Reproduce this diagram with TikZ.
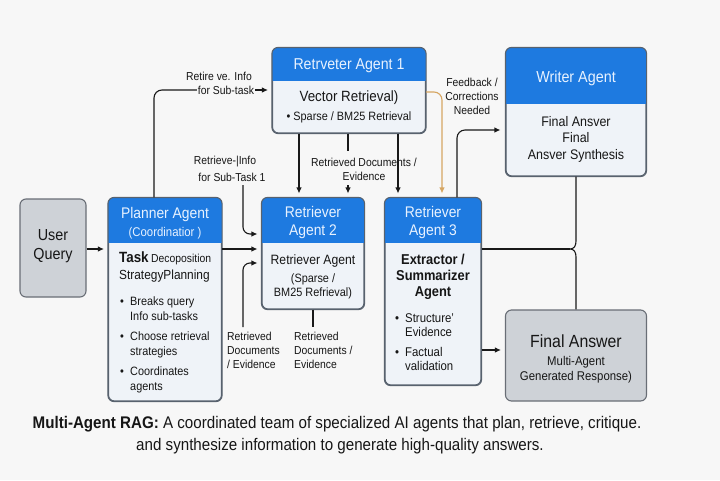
\documentclass[tikz,border=0pt]{standalone}
\usepackage{fontspec}
\setmainfont[FakeStretch=0.9]{Liberation Sans}
\usetikzlibrary{arrows.meta}
\definecolor{bg}{RGB}{247,247,247}
\definecolor{hdrblue}{RGB}{30,122,224}
\definecolor{bodyc}{RGB}{239,243,248}
\definecolor{bordc}{RGB}{88,98,110}
\definecolor{gfill}{RGB}{206,210,215}
\definecolor{gbord}{RGB}{105,110,118}
\definecolor{linec}{RGB}{25,25,25}
\definecolor{txtc}{RGB}{22,22,22}
\definecolor{orangec}{RGB}{214,166,98}
\definecolor{hdrtxtc}{RGB}{232,242,255}
\newcommand{\fs}[2]{\fontsize{\fpeval{#1*1.1}}{#2}\selectfont}
\newcommand{\hdrfill}[2]{%
  \begin{scope}
    \clip[rounded corners=6pt] (#1.south west) rectangle (#1.north east);
    \fill[hdrblue] (#1.north west) rectangle ([yshift=-#2pt]#1.north east);
  \end{scope}
  \draw[bordc, line width=1.1pt, rounded corners=6pt] (#1.south west) rectangle (#1.north east);}
\begin{document}
\begin{tikzpicture}[x=1pt,y=-1pt,
  box/.style={draw=bordc, line width=1.1pt, fill=bodyc, rounded corners=6pt, inner sep=0pt},
  gbox/.style={draw=gbord, line width=1.1pt, fill=gfill, rounded corners=6pt, inner sep=0pt},
  conn/.style={draw=linec, line width=1.1pt},
  arr/.style={conn, -{Latex[length=6pt,width=5.5pt]}, shorten >=4pt},
  oarr/.style={draw=orangec, line width=1.1pt, -{Latex[length=6pt,width=5.5pt]}, shorten >=4pt},
  hdrtxt/.style={text=hdrtxtc, align=center, inner sep=1pt},
  txt/.style={text=txtc, align=center, inner sep=1pt},
  lbl/.style={text=txtc, inner sep=1pt, font=\fs{10.5}{14}},
]
\fill[bg] (0,0) rectangle (720,480);
\useasboundingbox (0,0) rectangle (720,480);

% ---------- boxes ----------
\node[gbox, minimum width=66pt, minimum height=98pt] (uq) at (53,248) {};
\node[box, minimum width=113pt, minimum height=203pt] (pl) at (165,299.5) {};
\hdrfill{pl}{46}
\node[box, minimum width=153pt, minimum height=85pt] (r1) at (349,90.5) {};
\hdrfill{r1}{34}
\node[box, minimum width=140pt, minimum height=128pt] (wr) at (576,112) {};
\hdrfill{wr}{57}
\node[box, minimum width=102pt, minimum height=111pt] (r2) at (313,253.5) {};
\hdrfill{r2}{46}
\node[box, minimum width=96pt, minimum height=187pt] (r3) at (433,291.5) {};
\hdrfill{r3}{46}
\node[gbox, minimum width=141pt, minimum height=91pt] (fa) at (576,355.5) {};

% ---------- box texts ----------
\node[txt, font=\fs{14.5}{19}] (uqt) at (53,246) {User\\Query};

\node[hdrtxt, font=\fs{14}{18}] (plh) at (165,223) {Planner Agent\\{\fs{11.5}{18}(Coordinatior )}};
\node[txt, anchor=mid west] (pl1) at (118,260) {{\bfseries\fs{13.5}{16}Task} {\fs{10.5}{13}Decoposition}};
\node[txt, anchor=mid west, font=\fs{12}{15}] (pl2) at (118,277) {StrategyPlanning};
\node[txt, anchor=west, align=left, font=\fs{11}{15}] (pl3) at (119,345)
  {\makebox[10pt][l]{•}Breaks query\\\hspace*{10pt}Info sub-tasks\\[5pt]
   \makebox[10pt][l]{•}Choose retrieval\\\hspace*{10pt}strategies\\[5pt]
   \makebox[10pt][l]{•}Coordinates\\\hspace*{10pt}agents};

\node[hdrtxt, font=\fs{14.3}{17}] (r1h) at (349,66) {Retrveter Agent 1};
\node[txt, font=\fs{13.5}{16}] (r1b1) at (349,98) {Vector Retrieval)};
\node[txt, font=\fs{11}{14}] (r1b2) at (349,117) {• Sparse / BM25 Retrieval};

\node[hdrtxt, font=\fs{14.5}{17}] (wrh) at (576,78) {Writer Agent};
\node[txt, font=\fs{12.6}{16.5}] (wrb) at (576,139) {Final Ansver\\Final\\Ansver Synthesis};

\node[hdrtxt, font=\fs{14}{18}] (r2h) at (313,223) {Retriever\\Agent 2};
\node[txt, font=\fs{12.3}{15}] (r2b1) at (313,261) {Retriever Agent};
\node[txt, font=\fs{11}{14.5}] (r2b2) at (313,286.5) {(Sparse /\\BM25 Refrieval)};

\node[hdrtxt, font=\fs{14}{18}] (r3h) at (433,223) {Retriever\\Agent 3};
\node[txt, font=\bfseries\fs{13}{16}] (r3b1) at (433,277) {Extractor /\\Summarizer\\Agent};
\node[txt, anchor=west, align=left, font=\fs{11.5}{14.5}] (r3b2) at (394,342)
  {\makebox[10pt][l]{•}Structure'\\\hspace*{10pt}Evidence\\[5pt]
   \makebox[10pt][l]{•}Factual\\\hspace*{10pt}validation};

\node[txt, font=\fs{16}{19}] (fat1) at (576,341) {Final Answer};
\node[txt, font=\fs{11.5}{14.5}] (fat2) at (576,369.5) {Multi-Agent\\Generated Response)};

% ---------- labels ----------
\node[lbl] (t1a) at (219,76) {Retire ve. Info};
\node[lbl] (t1b) at (226,90) {for Sub-task};
\node[lbl] (t2a) at (225,162) {Retrieve-|Info};
\node[lbl] (t2b) at (232,177) {for Sub-Task 1};
\node[lbl, align=center] (t3) at (364,169) {Retrieved Documents /\\Evidence};
\node[lbl, align=center] (t4) at (472,96) {Feedback /\\Corrections\\Needed};
\node[lbl, align=left, anchor=west] (t5) at (226,350) {Retrieved\\Documents\\/ Evidence};
\node[lbl, align=left, anchor=west] (t6) at (293,350) {Retrieved\\Documents /\\Evidence};

% ---------- coordinates ----------
\coordinate (a1) at (154,91);
\coordinate (m1) at (240,249);
\coordinate (c2) at (243,185);
\coordinate (c3) at (243,327);
\coordinate (d1) at (299,160);
\coordinate (d2) at (348,151);
\coordinate (d3) at (348,185);
\coordinate (d4) at (398,160);
\coordinate (o1) at (442,92);
\coordinate (f1) at (457,130);
\coordinate (b1) at (576,241);
\coordinate (bt) at (570,249);
\coordinate (b2) at (576,257);
\coordinate (e1) at (490,350);
\coordinate (r2s) at (313,327);

% ---------- connectors ----------
\draw[arr] (uq.east |- m1) -- (pl.west |- m1);
\draw[arr] (pl.east |- m1) -- (r2.west |- m1);
\draw[conn, rounded corners=8pt] (pl.north -| a1) |- (t1b.west);
\draw[arr] (t1b.east) -- (r1.west |- t1b.east);
\draw[arr, rounded corners=7pt] (c2) |- ([yshift=19.5pt]r2.west);
\draw[arr, rounded corners=7pt] (c3) |- ([yshift=-9.5pt]r2.west);
\draw[arr] (r1.south -| d1) -- (r2.north -| d1);
\draw[conn] (r1.south -| d2) -- (d2);
\draw[arr] (d3) -- (r2.north -| d3);
\draw[arr] (r1.south -| d4) -- (r3.north -| d4);
\draw[oarr, rounded corners=8pt] (r1.east |- o1) -| (r3.north -| o1);
\draw[arr, rounded corners=8pt, shorten >=5pt] (r3.north -| f1) |- (wr.west |- f1);
\draw[conn] (wr.south) -- (b1) .. controls (576,246) and (574,249) .. (bt)
  .. controls (574,249) and (576,252) .. (b2) -- (fa.north);
\draw[conn] (r3.east |- bt) -- (bt);
\draw[arr] (r3.east |- e1) -- (fa.west |- e1);
\draw[conn] (r2.south) -- (r2s);

% ---------- caption ----------
\node[txt, font=\fs{15.3}{17}] (cap1) at (337,424) {\textbf{Multi-Agent RAG:} A coordinated team of specialized AI agents that plan, retrieve, critique.};
\node[txt, font=\fs{15.3}{17}] (cap2) at (340,446) {and synthesize information to generate high-quality answers.};
\end{tikzpicture}
\end{document}
